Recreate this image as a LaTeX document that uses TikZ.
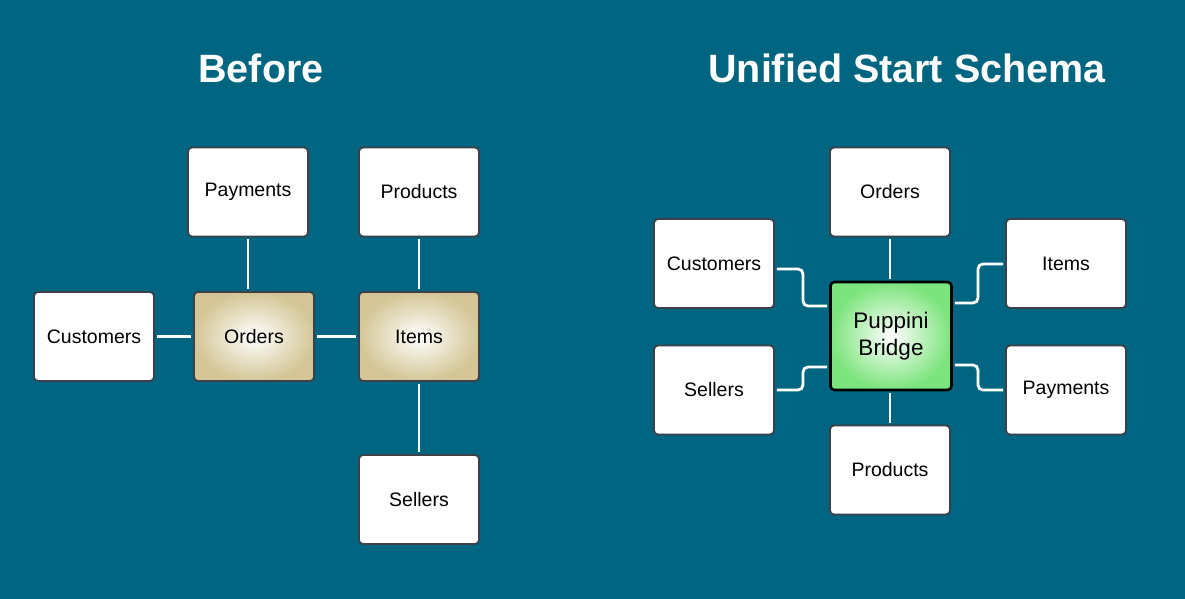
\documentclass[tikz,border=0pt]{standalone}
\usepackage{fontspec}
\setmainfont{Liberation Sans}
\definecolor{bg}{RGB}{0,101,128}
\definecolor{boxedge}{RGB}{60,64,72}
\definecolor{khaki}{RGB}{212,198,150}
\definecolor{lgreen}{RGB}{124,228,124}
\begin{document}
\begin{tikzpicture}[x=1pt,y=-1pt,
  box/.style={draw=boxedge, line width=1.8pt, fill=white, rounded corners=4pt,
    minimum width=120pt, minimum height=89pt, inner sep=0pt,
    font=\fontsize{19.5}{23}\selectfont, text=black},
  hub/.style={box, fill=none, shade, inner color=white, outer color=khaki},
  bridge/.style={box, draw=black, line width=2.6pt, fill=none, shade, inner color=white, outer color=lgreen,
    minimum width=121pt, minimum height=108pt, align=center, font=\fontsize{22.5}{27}\selectfont},
  title/.style={text=white, font=\bfseries\fontsize{39.5}{46}\selectfont},
  link/.style={draw=white, line width=2.8pt, shorten <=2pt, shorten >=2pt},
  elbow/.style={link, rounded corners=5pt}]
\fill[bg] (0,0) rectangle (1185,599);
\useasboundingbox (0,0) rectangle (1185,599);

\node[title] (t1) at (261,68) {Before};
\node[title] (t2) at (907,68) {Unified Start Schema};

% left diagram
\node[box] (lpay) at (248,192) {Payments};
\node[box] (lprod) at (419,192) {Products};
\node[box] (lcust) at (94,336.5) {Customers};
\node[hub] (lord) at (254,336.5) {Orders};
\node[hub] (litem) at (419,336.5) {Items};
\node[box] (lsell) at (419,499.5) {Sellers};

\draw[link] (lpay.south) -- (lpay.south |- lord.north);
\draw[link] (lprod) -- (litem);
\draw[link] (lcust) -- (lord);
\draw[link] (lord) -- (litem);
\draw[link] (litem) -- (lsell);

% right diagram
\node[box] (rord) at (890,192) {Orders};
\node[box] (rcust) at (714,263.5) {Customers};
\node[box] (ritem) at (1066,263.5) {Items};
\node[bridge] (pb) at (891,336) {Puppini\\Bridge};
\node[box] (rsell) at (714,390) {Sellers};
\node[box] (rpay) at (1066,390) {Payments};
\node[box] (rprod) at (890,470) {Products};

\coordinate (c1) at (803,269);
\coordinate (c2) at (803,306);
\coordinate (c3) at (978,303);
\coordinate (c4) at (978,264);
\coordinate (c5) at (803,390);
\coordinate (c6) at (803,367);
\coordinate (c7) at (978,365);
\coordinate (c8) at (978,390);

\draw[link] (rord.south) -- (rord.south |- pb.north);
\draw[link] (rprod.north) -- (rprod.north |- pb.south);
\draw[elbow] (rcust.east |- c1) -- (c1) -- (c2) -- (pb.west |- c2);
\draw[elbow] (pb.east |- c3) -- (c3) -- (c4) -- (ritem.west |- c4);
\draw[elbow] (rsell.east |- c5) -- (c5) -- (c6) -- (pb.west |- c6);
\draw[elbow] (pb.east |- c7) -- (c7) -- (c8) -- (rpay.west |- c8);
\end{tikzpicture}
\end{document}
